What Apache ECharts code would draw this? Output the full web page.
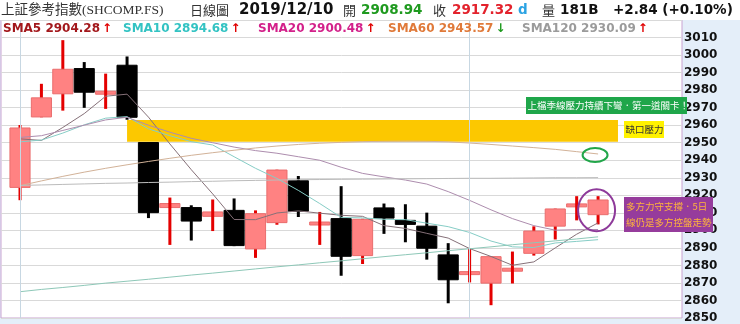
<!DOCTYPE html>
<html><head><meta charset="utf-8">
<script src="https://cdn.jsdelivr.net/npm/echarts@6/dist/echarts.min.js"></script>
<style>html,body{margin:0;padding:0;background:#e4eef9;}#c{width:740px;height:324px;}</style>
</head><body><div id="c"></div>
<script>
// ---- data ----
const dates = ['11/01','11/04','11/05','11/06','11/07','11/08','11/11','11/12','11/13','11/14','11/15','11/18','11/19','11/20','11/21','11/22','11/25','11/26','11/27','11/28','11/29','12/02','12/03','12/04','12/05','12/06','12/09','12/10'];
const opens  = [2924.5,2964.7,2977.9,2992.3,2977.8,2994.2,2950.1,2913.0,2913.0,2908.0,2911.4,2889.4,2904.4,2928.3,2903.4,2906.7,2885.6,2912.8,2905.7,2902.4,2886.0,2875.0,2869.9,2877.0,2886.9,2902.4,2914.0,2908.94];
const closes = [2958.4,2975.6,2991.9,2978.8,2979.2,2964.5,2910.1,2915.3,2905.3,2910.5,2891.3,2909.5,2934.4,2910.9,2904.4,2885.2,2906.3,2907.0,2903.4,2889.8,2871.8,2876.2,2885.0,2878.1,2899.6,2912.2,2914.48,2917.32];
const lows   = [2917.2,2964.5,2968.3,2969.9,2969.3,2963.1,2907.0,2891.7,2894.2,2899.6,2891.0,2884.3,2903.2,2907.6,2891.7,2874.1,2880.8,2898.0,2893.2,2883.3,2858.4,2870.3,2857.3,2869.7,2885.6,2894.8,2905.7,2903.4];
const highs  = [2960.1,2983.6,3008.5,2996.0,2989.4,2999.2,2950.3,2918.7,2914.3,2917.6,2918.2,2911.4,2934.6,2931.0,2910.5,2925.2,2906.6,2915.3,2914.9,2910.1,2892.7,2889.4,2885.2,2887.9,2902.3,2912.4,2919.5,2919.5];

const sma5   = [2952.2,2951.3,2958.7,2966.6,2976.5,2977.7,2964.6,2949.3,2934.6,2920.8,2906.2,2906.1,2909.9,2911.1,2909.8,2908.6,2908.0,2902.7,2901.1,2898.3,2895.6,2889.6,2885.1,2880.1,2882.0,2890.0,2897.8,2904.28];
const sma10  = [2950.5,2951.5,2955.5,2960.2,2964.0,2964.9,2957.9,2954.0,2950.6,2948.7,2942.0,2935.4,2929.6,2922.8,2915.3,2907.4,2907.1,2906.3,2906.1,2904.1,2902.1,2898.8,2893.9,2890.6,2890.2,2892.8,2893.7,2894.68];
const sma20  = [2953.0,2954.0,2957.0,2960.0,2963.0,2964.5,2960.0,2956.0,2952.5,2950.0,2947.5,2945.5,2944.0,2942.0,2940.0,2936.0,2932.5,2930.5,2928.7,2926.4,2922.1,2917.1,2911.7,2906.7,2902.7,2900.1,2900.4,2900.48];
const sma60  = [2925.5,2928.2,2930.8,2933.2,2935.4,2937.4,2939.3,2941.1,2942.8,2944.3,2945.7,2947.0,2948.1,2949.0,2949.7,2950.2,2950.6,2950.8,2950.9,2950.8,2950.5,2949.8,2949.0,2948.1,2947.2,2946.2,2944.9,2943.57];
const sma120 = [2925.6,2925.9,2926.2,2926.5,2926.8,2927.0,2927.3,2927.5,2927.8,2928.0,2928.3,2928.5,2928.7,2928.9,2929.0,2929.1,2929.2,2929.3,2929.4,2929.5,2929.6,2929.7,2929.7,2929.8,2929.9,2930.0,2930.0,2930.09];
const sma240 = [2865.0,2866.3,2867.4,2868.6,2869.9,2871.0,2872.1,2873.3,2874.5,2875.6,2876.8,2878.0,2879.2,2880.3,2881.5,2882.6,2883.8,2885.0,2886.1,2887.2,2888.4,2889.5,2890.6,2891.8,2892.9,2894.0,2895.1,2896.3];

const yMin = 2850, yMax = 3020, yStep = 10;
const gapZone = [5, 27.93, 2950.5, 2963.0];   // x from, x to, low, high
const monthStarts = [0, 21];
const volumeText = '181B';
const titleText = '上証參考指數(SHCOMP.FS)';

const smaDefs = [
  {name:'SMA5',   data:sma5,   text:'#a3181c', line:'#857078', x:3},
  {name:'SMA10',  data:sma10,  text:'#33c3c3', line:'#86cdc6', x:123},
  {name:'SMA20',  data:sma20,  text:'#d3218a', line:'#ad8dae', x:258},
  {name:'SMA60',  data:sma60,  text:'#e07a3a', line:'#d2b298', x:388},
  {name:'SMA120', data:sma120, text:'#9b9b9b', line:'#bcbcbc', x:522}
];

const chart = echarts.init(document.getElementById('c'), null, {renderer:'canvas'});
const candleData = dates.map((d,i)=>[i, opens[i], closes[i], lows[i], highs[i]]);
const CJK = '"Noto Sans CJK TC","Noto Sans CJK SC",sans-serif';

function renderCandle(params, api){
  const i = api.value(0), o = api.value(1), c = api.value(2), l = api.value(3), h = api.value(4);
  const pO = api.coord([i,o]), pC = api.coord([i,c]), pL = api.coord([i,l]), pH = api.coord([i,h]);
  const w = api.size([1,0])[0] * 0.94;
  const up = c >= o;
  let top = Math.min(pO[1], pC[1]); let bh = Math.abs(pO[1]-pC[1]);
  if (bh < 3) { top -= (3-bh)/2; bh = 3; }
  const wick = {type:'line', shape:{x1:pH[0], y1:pH[1], x2:pL[0], y2:pL[1]}, style:{stroke: up?'#e40000':'#000', lineWidth:3}};
  const body = {type:'rect', shape:{x:pO[0]-w/2, y:top, width:w, height:bh}, style:{fill: up?'#ff8282':'#000', stroke: up?'#ea6d6d':'#000', lineWidth:1}};
  const kids = bh < 5 ? [body, wick] : [wick, body];
  return {type:'group', children:kids};
}

const series = [
  {type:'line', data:[], z:1, silent:true,
   markArea:{silent:true, itemStyle:{color:'#fcc800', opacity:1},
     data:[[{xAxis:gapZone[0], yAxis:gapZone[3]},{xAxis:gapZone[1], yAxis:gapZone[2]}]]},
   markLine:{silent:true, symbol:'none', label:{show:false}, lineStyle:{color:'#c7d7e2', width:1, type:'solid'},
     data: monthStarts.map(v=>({xAxis:v}))}
  },
  {type:'custom', name:'K', renderItem:renderCandle, data:candleData, z:2, encode:{x:0, y:[1,2,3,4]}, clip:true}
];
smaDefs.forEach(s=>{
  series.push({type:'line', name:s.name, data:s.data.map((v,i)=>[i,v]), showSymbol:false, z:3, silent:true,
    lineStyle:{color:s.line, width:1}, itemStyle:{color:s.line}});
});
series.push({type:'line', name:'SMA240', data:sma240.map((v,i)=>[i,v]), showSymbol:false, z:3, silent:true,
  lineStyle:{color:'#8ec8b8', width:1}});

chart.setOption({
  animation:false,
  backgroundColor:'#e4eef9',
  grid:{left:1, top:20, right:58, bottom:6, show:true, borderColor:'#c9a3d1', borderWidth:1, backgroundColor:'#ffffff'},
  xAxis:{type:'value', min:-0.8876, max:30.92, axisLine:{show:false}, axisTick:{show:false}, axisLabel:{show:false}, splitLine:{show:false}},
  yAxis:{type:'value', position:'right', min:yMin, max:yMax, interval:yStep,
    axisLine:{show:false}, axisTick:{show:false},
    axisLabel:{margin:2, color:'#111', fontWeight:'bold', fontSize:12, fontFamily:'DejaVu Sans',
      formatter:v=> v>=yMax ? '' : String(v)},
    splitLine:{lineStyle:{color:'#d9d9d9', width:1}}},
  series: series
});

// ---- header / legend / annotations ----
const last = dates.length-1;
const chg = closes[last]-closes[last-1];
const pct = chg/closes[last-1]*100;
const g = [];
g.push({type:'rect', z:0, shape:{x:0,y:0,width:740,height:20}, style:{fill:'#ffffff'}});
const header = [
  {x:1,   t:titleText, font:'13.5px "Liberation Serif",'+CJK, fill:'#333'},
  {x:190, t:'日線圖', font:'13px '+CJK, fill:'#333'},
  {x:239, t:'2019/12/10', font:'bold 15px "DejaVu Sans"', fill:'#111'},
  {x:343, t:'開', font:'13px '+CJK, fill:'#333'},
  {x:361, t:opens[last].toFixed(2), font:'bold 13.5px "DejaVu Sans"', fill:'#1f9a1f'},
  {x:433, t:'收', font:'13px '+CJK, fill:'#333'},
  {x:452, t:closes[last].toFixed(2), font:'bold 13.5px "DejaVu Sans"', fill:'#e3222c'},
  {x:518, t:'d', font:'bold 13.5px "DejaVu Sans"', fill:'#2ba3e3'},
  {x:542, t:'量', font:'13px '+CJK, fill:'#333'},
  {x:560, t:volumeText, font:'bold 13.5px "DejaVu Sans"', fill:'#111'},
  {x:613, t:(chg>=0?'+':'')+chg.toFixed(2)+' ('+(pct>=0?'+':'')+pct.toFixed(2)+'%)', font:'bold 13.5px "DejaVu Sans"', fill:'#111'}
];
header.forEach(h=>g.push({type:'text', z:50, style:{x:h.x, y:10, text:h.t, font:h.font, fill:h.fill, verticalAlign:'middle'}}));

smaDefs.forEach(s=>{
  const n = s.data.length;
  const upArrow = s.data[n-1] >= s.data[n-2];
  g.push({type:'text', z:50, style:{x:s.x, y:29, verticalAlign:'middle',
    text:'{n|'+s.name+' '+s.data[n-1].toFixed(2)+'}{a|'+(upArrow?'↑':'↓')+'}',
    rich:{n:{fill:s.text, fontWeight:'bold', fontSize:12, fontFamily:'DejaVu Sans'},
          a:{fill:upArrow?'#e00000':'#1f9a1f', fontWeight:'bold', fontSize:12, fontFamily:'DejaVu Sans', padding:[0,0,0,2]}}}});
});

// annotation boxes
g.push({type:'rect', z:60, shape:{x:526,y:97,width:161,height:17}, style:{fill:'#1fa64a'}});
g.push({type:'text', z:61, style:{x:527.5,y:105.5,text:'上檔季線壓力持續下彎．第一道關卡！', font:'9.5px '+CJK, fill:'#ffffff', verticalAlign:'middle'}});
g.push({type:'rect', z:60, shape:{x:624,y:121,width:40,height:17}, style:{fill:'#fff200'}});
g.push({type:'text', z:61, style:{x:625.5,y:129.5,text:'缺口壓力', font:'9.5px '+CJK, fill:'#333', verticalAlign:'middle'}});
g.push({type:'rect', z:60, shape:{x:624,y:197,width:89,height:35}, style:{fill:'#963c9c'}});
g.push({type:'text', z:61, style:{x:626,y:206,text:'多方力守支撐．5日', font:'9.5px '+CJK, fill:'#ffb43c', verticalAlign:'middle'}});
g.push({type:'text', z:61, style:{x:626,y:222,text:'線仍是多方控盤走勢', font:'9.5px '+CJK, fill:'#ffb43c', verticalAlign:'middle'}});

// ellipses around data points
const pG = chart.convertToPixel({gridIndex:0}, [last, sma60[last]]);
g.push({type:'ellipse', z:62, shape:{cx:pG[0]-3, cy:pG[1]+1, rx:12.5, ry:7}, style:{fill:'none', stroke:'#22a64a', lineWidth:2}});
const pP = chart.convertToPixel({gridIndex:0}, [last, (highs[last]+lows[last])/2]);
g.push({type:'ellipse', z:62, shape:{cx:pP[0]-1.5, cy:pP[1], rx:18.5, ry:21}, style:{fill:'none', stroke:'#8e3a9a', lineWidth:2}});

chart.setOption({graphic:g});
</script></body></html>
